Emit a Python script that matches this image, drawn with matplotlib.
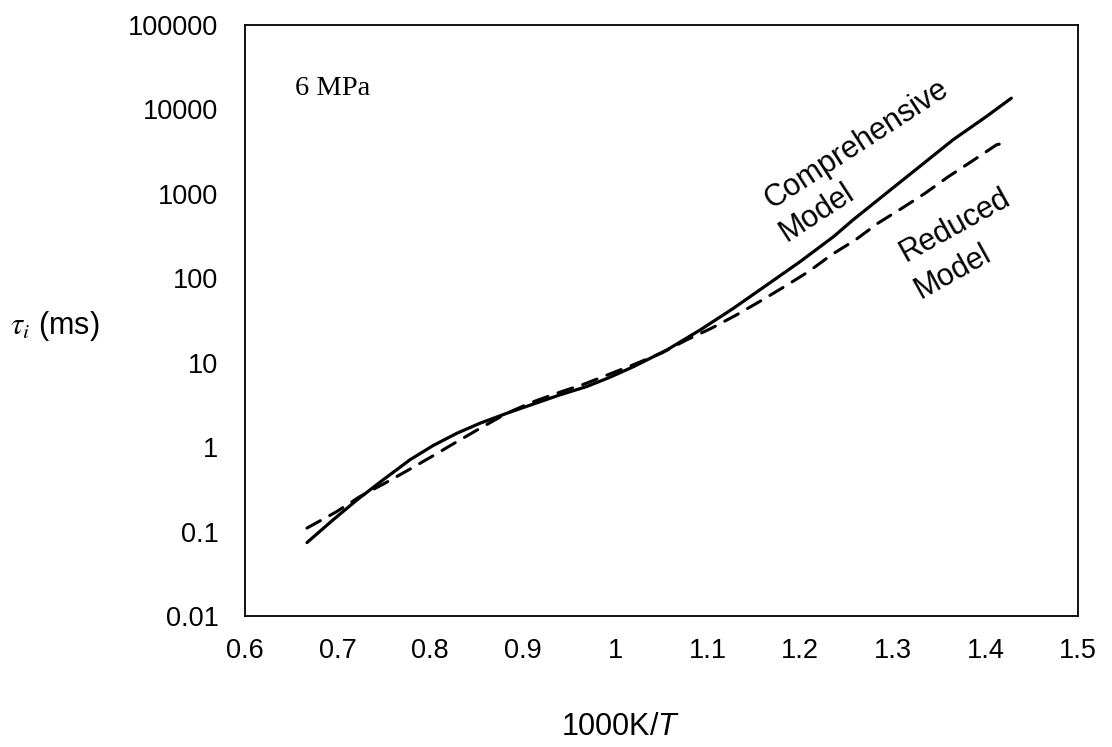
import matplotlib
matplotlib.use('Agg')
import matplotlib.pyplot as plt
from matplotlib.ticker import FixedLocator, FuncFormatter

plt.rcParams['font.family'] = ['Liberation Sans', 'DejaVu Sans']
plt.rcParams['mathtext.fontset'] = 'custom'
plt.rcParams['mathtext.rm'] = 'Liberation Sans'
plt.rcParams['mathtext.it'] = 'Liberation Sans:italic'

# 1000K/T and ignition delay (ms)
x_comp = [0.667, 0.695, 0.721, 0.749, 0.778, 0.803, 0.829, 0.854, 0.883, 0.912,
          0.940, 0.969, 0.994, 1.020, 1.056, 1.092, 1.128, 1.164, 1.200, 1.236,
          1.257, 1.293, 1.329, 1.365, 1.401, 1.428]
tau_comp = [0.074, 0.137, 0.237, 0.408, 0.705, 1.04, 1.46, 1.92, 2.52, 3.25,
            4.15, 5.21, 6.7, 9.0, 14.2, 24.5, 44.3, 83.6, 158, 312,
            492, 1020, 2110, 4370, 8240, 13600]

x_red = [0.667, 0.699, 0.724, 0.751, 0.778, 0.803, 0.829, 0.856, 0.883, 0.910,
         0.939, 0.967, 1.020, 1.050, 1.077, 1.104, 1.131, 1.156, 1.183, 1.209,
         1.234, 1.259, 1.284, 1.310, 1.335, 1.360, 1.385, 1.412, 1.419]
tau_red = [0.110, 0.172, 0.259, 0.373, 0.547, 0.787, 1.16, 1.72, 2.52, 3.40,
           4.43, 5.61, 9.5, 13.0, 18.6, 25.6, 36.8, 53.0, 79.8, 120,
           191, 282, 450, 678, 1020, 1600, 2420, 3810, 3980]

x_ticks = [0.6, 0.7, 0.8, 0.9, 1.0, 1.1, 1.2, 1.3, 1.4, 1.5]
y_ticks = [0.01, 0.1, 1, 10, 100, 1000, 10000, 100000]

fig = plt.figure(figsize=(11.12, 7.47), dpi=100)
ax = fig.add_axes([0.2203, 0.1754, 0.7491, 0.7911])

ax.plot(x_comp, tau_comp, color='black', lw=2.3, solid_capstyle='round',
        solid_joinstyle='round')
ax.plot(x_red, tau_red, color='black', lw=2.2, dashes=(5, 3.5),
        dash_capstyle='round')

ax.set_yscale('log')
ax.set_xlim(0.6, 1.5)
ax.set_ylim(0.01, 100000)
ax.xaxis.set_major_locator(FixedLocator(x_ticks))
ax.yaxis.set_major_locator(FixedLocator(y_ticks))
ax.yaxis.set_minor_locator(FixedLocator([]))
ax.xaxis.set_major_formatter(FuncFormatter(lambda v, p: '%g' % v))
ax.yaxis.set_major_formatter(FuncFormatter(lambda v, p: '%g' % v))
ax.tick_params(axis='both', length=0, labelsize=19.5)
ax.tick_params(axis='y', pad=19)
ax.tick_params(axis='x', pad=16)
for s in ax.spines.values():
    s.set_linewidth(1.3)
    s.set_color('black')

ax.text(0.06, 0.893, '6 MPa', transform=ax.transAxes, fontsize=20.5,
        family='Liberation Serif', ha='left', va='center')

# curve labels
lab = dict(fontsize=22, ha='left', va='baseline', rotation_mode='anchor')
ax.text(1.169, 664, 'Comprehensive', rotation=33, **lab)
ax.text(1.185, 270, 'Model', rotation=33, **lab)
ax.text(1.314, 156, 'Reduced', rotation=29, **lab)
ax.text(1.330, 57, 'Model', rotation=29, **lab)

fig.text(0.049, 0.5636, r'$\tau_i$ (ms)', fontsize=22, ha='center', va='center',
         math_fontfamily='stix')
fig.text(0.5585, 0.027, r'1000K/$T$', fontsize=22, ha='center', va='center')

fig.savefig('out.png', dpi=100)
